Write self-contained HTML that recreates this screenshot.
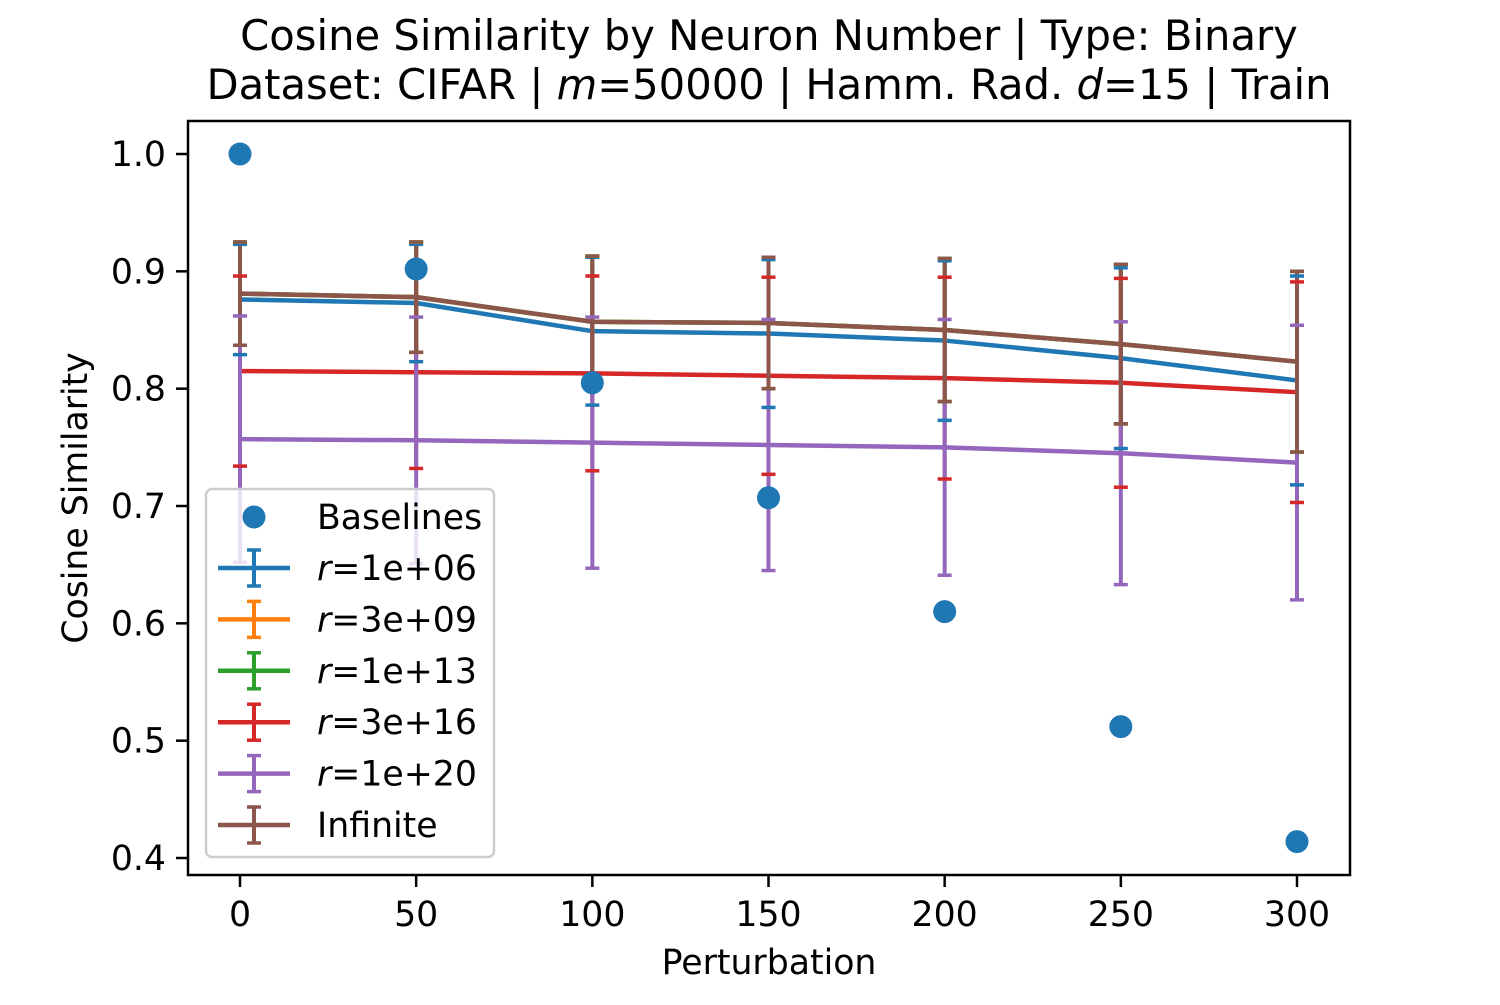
<!DOCTYPE html>
<html><head><meta charset="utf-8"><style>
body{margin:0;background:#fff;}
svg text{font-family:"DejaVu Sans","Liberation Sans",sans-serif;fill:#000;}
</style></head><body>
<svg id="chart" width="1500" height="1000" xmlns="http://www.w3.org/2000/svg"></svg>
<script>
const perturbations=[0,50,100,150,200,250,300];
const baselines=[1.0,0.902,0.805,0.707,0.610,0.512,0.414];
const mean_r1e06=[0.876,0.873,0.849,0.847,0.841,0.826,0.807];
const err_r1e06=[0.047,0.050,0.063,0.063,0.068,0.077,0.089];
const mean_inf=[0.881,0.878,0.857,0.856,0.850,0.838,0.823];
const err_inf=[0.044,0.047,0.056,0.056,0.061,0.068,0.077];
const mean_r3e16=[0.815,0.814,0.813,0.811,0.809,0.805,0.797];
const err_r3e16=[0.081,0.082,0.083,0.084,0.086,0.089,0.094];
const mean_r1e20=[0.757,0.756,0.754,0.752,0.750,0.745,0.737];
const err_r1e20=[0.105,0.105,0.107,0.107,0.109,0.112,0.117];
const xTicks=[0,50,100,150,200,250,300];
const yTicks=[0.4,0.5,0.6,0.7,0.8,0.9,1.0];
const yTickLabels=["0.4","0.5","0.6","0.7","0.8","0.9","1.0"];
const seriesNames=["r=1e+06","r=3e+09","r=1e+13","r=3e+16","r=1e+20","Infinite"];

const NS="http://www.w3.org/2000/svg";
const svg=document.getElementById('chart');
const X=v=>240+v*(1297-240)/300;
const Y=v=>154+(1-v)*(858-154)/0.6;
function mk(tag,attrs,parent){const e=document.createElementNS(NS,tag);for(const k in attrs)e.setAttribute(k,attrs[k]);(parent||svg).appendChild(e);return e;}
function txt(s,attrs,parent){const e=mk('text',attrs,parent);e.textContent=s;return e;}

const series=[
 {name:'r-1e06',m:mean_r1e06,e:err_r1e06,c:'#1f77b4'},
 {name:'r-3e09',m:mean_inf,e:err_inf,c:'#ff7f0e'},
 {name:'r-1e13',m:mean_inf,e:err_inf,c:'#2ca02c'},
 {name:'r-3e16',m:mean_r3e16,e:err_r3e16,c:'#d62728'},
 {name:'r-1e20',m:mean_r1e20,e:err_r1e20,c:'#9467bd'},
 {name:'infinite',m:mean_inf,e:err_inf,c:'#8c564b'}
];
const gData=mk('g',{});


// bars and lines
series.forEach(s=>{
 const g=mk('g',{},gData);
 
 
 perturbations.forEach((p,i)=>{
  const l=mk('line',{x1:X(p),x2:X(p),y1:Y(s.m[i]+s.e[i]),y2:Y(s.m[i]-s.e[i]),stroke:s.c,'stroke-width':4},g);
  
  
 });
 const pl=mk('polyline',{points:perturbations.map((p,i)=>X(p)+','+Y(s.m[i])).join(' '),fill:'none',stroke:s.c,'stroke-width':4.5,'stroke-linejoin':'round'},g);
 
 
});
// caps
series.forEach(s=>{
 perturbations.forEach((p,i)=>{
  [s.m[i]+s.e[i],s.m[i]-s.e[i]].forEach(v=>{
   const c=mk('line',{x1:X(p)-7,x2:X(p)+7,y1:Y(v),y2:Y(v),stroke:s.c,'stroke-width':3.5},gData);
   
   
  });
 });
});
// baselines
perturbations.forEach((p,i)=>{
 const c=mk('circle',{cx:X(p),cy:Y(baselines[i]),r:11.5,fill:'#1f77b4'},gData);
 
 
});
// axes frame
const frame=mk('rect',{x:188,y:121,width:1162,height:754,fill:'none',stroke:'#000','stroke-width':2.5});


xTicks.forEach(t=>{
 const l=mk('line',{x1:X(t),x2:X(t),y1:875,y2:887,stroke:'#000','stroke-width':2.5});
 
 
 const tx=txt(String(t),{x:X(t),y:926,'font-size':34.7,'text-anchor':'middle'});
 
 
});
yTicks.forEach((t,i)=>{
 const l=mk('line',{x1:176,x2:188,y1:Y(t),y2:Y(t),stroke:'#000','stroke-width':2.5});
 
 
 const tx=txt(yTickLabels[i],{x:166,y:Y(t)+12,'font-size':34.7,'text-anchor':'end'});
 
 
});
const xt=txt('Perturbation',{x:769,y:974,'font-size':34.7,'text-anchor':'middle'});


const yt=txt('Cosine Similarity',{x:0,y:0,'font-size':34.7,'text-anchor':'middle',transform:'translate(87,498) rotate(-90)'});


const t1=txt('Cosine Similarity by Neuron Number | Type: Binary',{x:769,y:50,'font-size':41.7,'text-anchor':'middle'});


const t2=mk('text',{x:769,y:99,'font-size':41.7,'text-anchor':'middle'});
t2.innerHTML='Dataset: CIFAR | <tspan font-style="italic">m</tspan>=50000 | Hamm. Rad. <tspan font-style="italic">d</tspan>=15 | Train';


// legend
const lg=mk('g',{});


mk('rect',{x:206,y:489,width:288,height:368,rx:6,fill:'#fff','fill-opacity':0.8,stroke:'#ccc','stroke-width':2.5},lg);
const be=mk('g',{},lg);


mk('circle',{cx:254,cy:517,r:11.5,fill:'#1f77b4'},be);
txt('Baselines',{x:317,y:529,'font-size':34.7},be);
series.forEach((s,i)=>{
 const y=568+i*51.4;
 const g=mk('g',{},lg);
 
 
 mk('line',{x1:218,x2:290,y1:y,y2:y,stroke:s.c,'stroke-width':4.5},g);
 mk('line',{x1:254,x2:254,y1:y-18,y2:y+18,stroke:s.c,'stroke-width':4},g);
 mk('line',{x1:247,x2:261,y1:y-18,y2:y-18,stroke:s.c,'stroke-width':3.5},g);
 mk('line',{x1:247,x2:261,y1:y+18,y2:y+18,stroke:s.c,'stroke-width':3.5},g);
 const tx=mk('text',{x:317,y:y+12,'font-size':34.7},g);
 const nm=seriesNames[i];
 if(nm.startsWith('r=')) tx.innerHTML='<tspan font-style="italic">r</tspan>'+nm.slice(1);
 else tx.textContent=nm;
});
</script>
</body></html>
